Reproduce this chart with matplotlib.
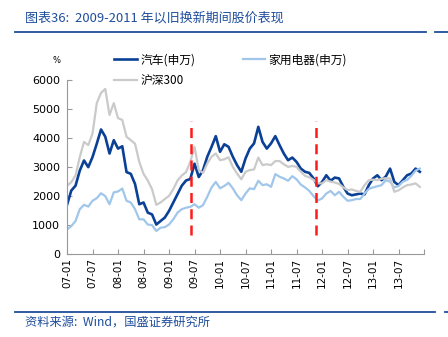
import matplotlib.pyplot as plt
import numpy as np
from matplotlib.lines import Line2D

plt.rcParams['font.family'] = ['Noto Sans CJK SC', 'DejaVu Sans']

# monthly index values, 2007-01 .. 2013-12
auto = [1700, 2190, 2360, 2880, 3230, 3000, 3350, 3810, 4300, 4050,
        3470, 3930, 3640, 3720, 2830, 2770, 2420, 1720, 1780, 1430,
        1370, 1020, 1140, 1260, 1490, 1780, 2070, 2360, 2540, 2590,
        3120, 2660, 2900, 3360, 3700, 4070, 3530, 3790, 3700, 3360,
        3070, 2840, 3300, 3640, 3820, 4390, 3870, 3640, 3820, 4070,
        3760, 3470, 3240, 3330, 3180, 2950, 2840, 2800, 2610, 2340,
        2490, 2720, 2530, 2640, 2610, 2320, 2090, 2030, 2060, 2090,
        2060, 2380, 2610, 2720, 2550, 2680, 2950, 2490, 2380, 2550,
        2720, 2780, 2950, 2840]
appliance = [850, 965, 1140, 1550, 1700, 1640, 1840, 1930, 2100, 2000,
             1720, 2130, 2160, 2260, 1840, 1780, 1550, 1200, 1200, 1020,
             1000, 800, 910, 930, 1020, 1200, 1430, 1550, 1600, 1630,
             1720, 1600, 1690, 1980, 2300, 2490, 2270, 2350, 2460, 2270,
             2030, 1860, 2090, 2270, 2240, 2530, 2380, 2410, 2320, 2760,
             2670, 2610, 2530, 2690, 2580, 2400, 2300, 2180, 2000, 1850,
             1920, 2090, 2180, 2030, 2150, 1980, 1840, 1860, 1900, 1900,
             2090, 2250, 2300, 2340, 2380, 2550, 2500, 2300, 2350, 2500,
             2560, 2700, 2880, 2950]
hs300 = [2360, 2480, 2710, 3350, 3870, 3760, 4160, 5210, 5560, 5700,
         4800, 5210, 4690, 4630, 4050, 3930, 3810, 3180, 2770, 2540,
         2240, 1700, 1780, 1900, 2010, 2240, 2540, 2710, 2830, 3180,
         3700, 2900, 2800, 3130, 3360, 3470, 3240, 3270, 3340, 3010,
         2780, 2580, 2840, 2900, 2920, 3330, 3070, 3100, 3070, 3210,
         3210, 3100, 3010, 3040, 3010, 2840, 2700, 2650, 2560, 2440,
         2440, 2550, 2500, 2470, 2420, 2300, 2210, 2230, 2180, 2150,
         2380, 2550, 2570, 2550, 2600, 2620, 2610, 2150, 2200, 2300,
         2380, 2400, 2440, 2320]
tick_labels = ['07-01', '07-07', '08-01', '08-07', '09-01', '09-07', '10-01',
               '10-07', '11-01', '11-07', '12-01', '12-07', '13-01', '13-07']
# start and end of the trade-in programme (month index)
policy = [29.2, 58.6]

x = np.arange(len(auto))

fig = plt.figure(figsize=(4.48, 3.37), dpi=100)
ax = fig.add_axes([0.1496, 0.246, 0.797, 0.516])

ax.plot(x, auto, color='#0b4097', lw=1.9, label='汽车(申万)')
ax.plot(x, appliance, color='#a0c6ea', lw=1.6, label='家用电器(申万)')
ax.plot(x, hs300, color='#cacaca', lw=1.6, label='沪深300')
ax.vlines(policy, 650, 4600, colors='#ff1a1a', lw=1.8, linestyles=(0, (4, 2.5)))

ax.set_xlim(0, 84)
ax.set_ylim(0, 6000)
ax.set_xticks(np.arange(0, 85, 6))
ax.set_xticklabels(tick_labels + [''], rotation=90, fontsize=7.5,
                   family='DejaVu Sans')
ax.set_yticks(np.arange(0, 6001, 1000))
ax.set_yticklabels([str(v) for v in range(0, 6001, 1000)], fontsize=8,
                   family='DejaVu Sans')
ax.tick_params(direction='in', length=3.5, color='#999999', pad=3)
ax.tick_params(axis='y', pad=5)
for s in ['top', 'right']:
    ax.spines[s].set_visible(False)
for s in ['left', 'bottom']:
    ax.spines[s].set_color('#999999')
    ax.spines[s].set_linewidth(0.8)

handles = [Line2D([], [], color='#0b4097', lw=1.9),
           Line2D([], [], color='#cacaca', lw=1.6),
           Line2D([], [], color='#a0c6ea', lw=1.6)]
labels = ['汽车(申万)', '沪深300', '家用电器(申万)']
fig.legend(handles, labels, ncol=2, loc='upper left',
           bbox_to_anchor=(0.245, 0.855), frameon=False, fontsize=8.5,
           handlelength=1.9, handletextpad=0.3, columnspacing=4.0,
           labelspacing=0.65, borderaxespad=0)

fig.text(0.118, 0.812, '%', fontsize=6, family='DejaVu Sans')

blue = '#1f4e9c'
fig.text(0.056, 0.948, '图表36:  2009-2011 年以旧换新期间股价表现', fontsize=9.4,
         color=blue, style='italic', va='center')
fig.add_artist(Line2D([0.034, 0.951], [0.904, 0.904], color=blue, lw=1.3))
fig.add_artist(Line2D([0.971, 1.0], [0.904, 0.904], color=blue, lw=1.3))
fig.add_artist(Line2D([0.034, 0.971], [0.073, 0.073], color=blue, lw=1.3))
fig.add_artist(Line2D([0.993, 1.0], [0.073, 0.073], color=blue, lw=1.3))
fig.text(0.056, 0.043, '资料来源:  Wind，国盛证券研究所', fontsize=8.8,
         color=blue, style='italic', va='center')

fig.savefig('out.png', dpi=100)
